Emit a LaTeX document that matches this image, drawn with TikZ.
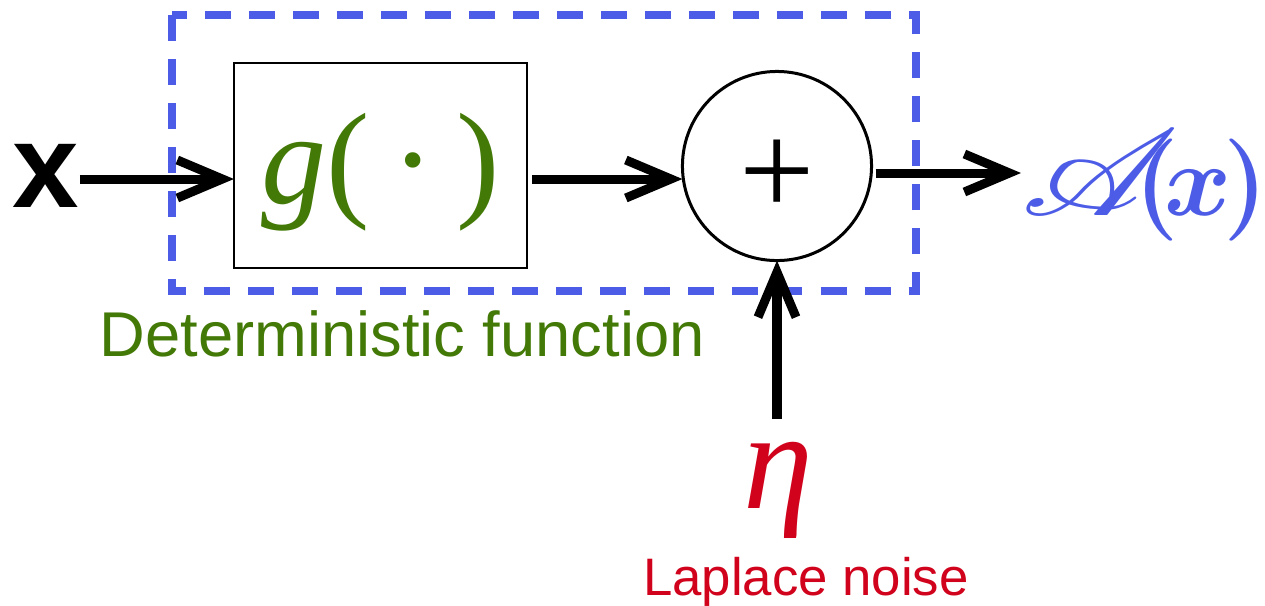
\RequirePackage{fix-cm}
\documentclass[tikz,border=0pt]{standalone}
\usepackage{fontspec}
\usepackage{amsmath,bm,mathrsfs,graphicx}
\usetikzlibrary{arrows.meta}
\newfontfamily\lsans{Liberation Sans}
\newfontfamily\lserif{Liberation Serif}
\definecolor{detgreen}{RGB}{67,121,6}
\definecolor{frameblue}{RGB}{76,92,230}
\definecolor{noisered}{RGB}{208,2,28}
\newcommand{\fsz}[1]{\fontsize{#1}{1.2\dimexpr#1\relax}\selectfont}

\begin{document}
\begin{tikzpicture}[x=0.01cm, y=-0.01cm, >=Stealth,
  arr/.style={line width=0.09cm,-{Straight Barb[length=0.45cm,width=0.38cm]}},
  gbox/.style={draw,line width=0.025cm,inner sep=0pt,outer sep=0pt,minimum width=2.93cm,minimum height=2.05cm},
  sumnode/.style={draw,circle,line width=0.03cm,inner sep=0pt,outer sep=0pt,minimum size=1.89cm},
  frame/.style={draw=frameblue,line width=0.08cm,dash pattern=on 0.26cm off 0.18cm},
  lab/.style={inner sep=0pt,font=\lsans\fsz{18pt}}]
\useasboundingbox (0,0) rectangle (1265,605);
\draw[frame] (172,15) rectangle (916,291);
\node[inner sep=0pt,font=\lsans\bfseries\fsz{34pt}] (xin) at (46,176) {x};
\node[gbox,text=detgreen,font=\lserif\fsz{37pt},text height=1.0cm,text depth=0.24cm] (g) at (380.5,165.5) {\textit{g}(\,·\,)};
\node[sumnode,font=\lserif\fsz{38pt},text height=0.98cm,text depth=0pt] (sum) at (777,166) {+};
\node[inner sep=0pt,anchor=west,text=frameblue,font=\fsz{29pt}] (out) at (1021,185)
  {$\scalebox{1.75}[1.4]{$\mathscr{A}$}\mkern-8mu\bm{(}\mkern-2.5mu\bm{x}\mkern-1.5mu\bm{)}$};
\node[inner sep=0pt,text=noisered,font=\lserif\itshape\fsz{40pt}] (eta) at (778,490) {η};
\node[lab,text=detgreen,anchor=base west] (det) at (99,356) {Deterministic function};
\node[lab,text=noisered,font=\lsans\fsz{15pt},anchor=base] (noise) at (806,595) {Laplace noise};
\draw[arr] (xin.east |- 0,179) -- (g.west |- 0,179);
\draw[arr,shorten <=0.05cm] (g.east |- 0,179) -- (sum.west |- 0,179);
\draw[arr,shorten <=0.04cm] (sum.east |- 0,173) -- (out.west |- 0,173);
\draw[arr,shorten <=0.22cm] (sum.south |- eta.north) -- (sum.south);
\end{tikzpicture}
\end{document}
